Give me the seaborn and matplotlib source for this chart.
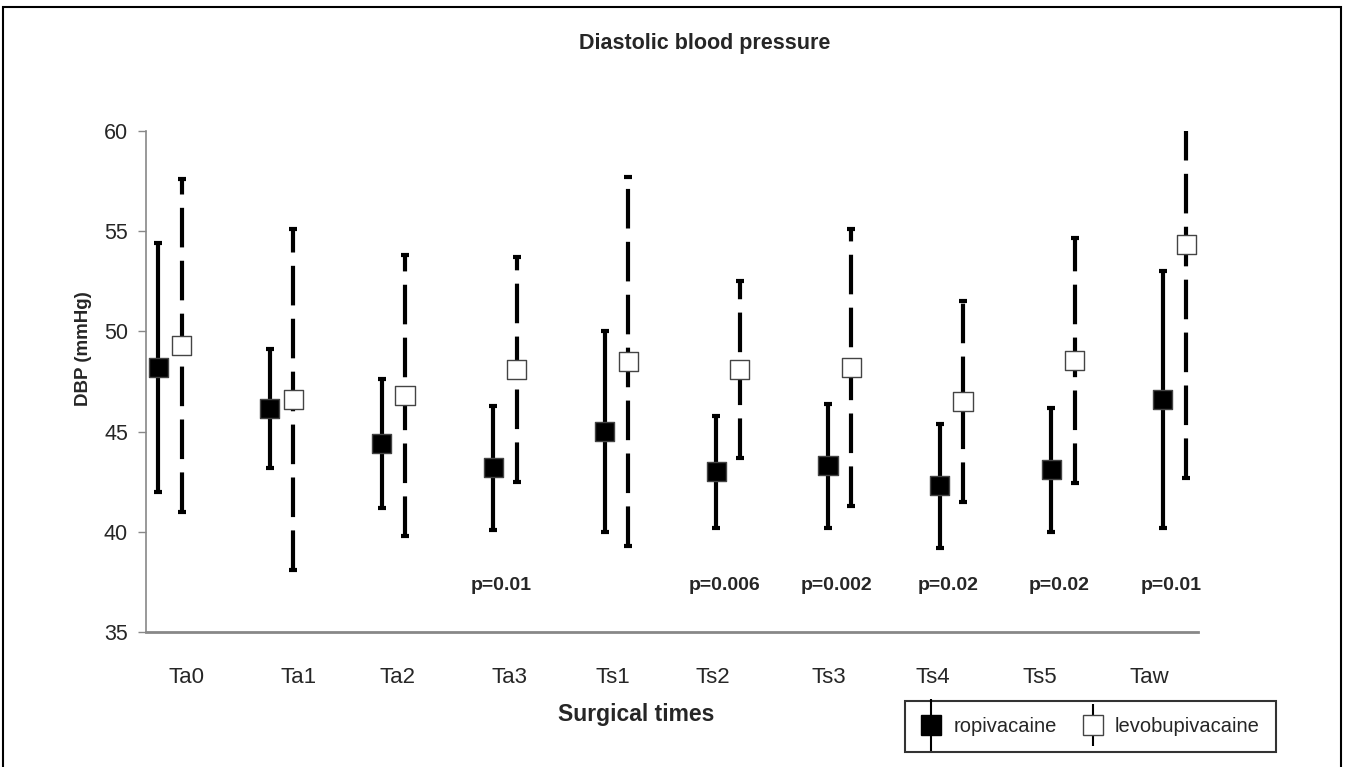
import numpy as np
import pandas as pd
import matplotlib
matplotlib.use("Agg")
import matplotlib.pyplot as plt
import seaborn as sns
from matplotlib.lines import Line2D
from matplotlib.patches import Rectangle
from matplotlib.legend_handler import HandlerTuple

# ---- data ----
times = ["Ta0", "Ta1", "Ta2", "Ta3", "Ts1", "Ts2", "Ts3", "Ts4", "Ts5", "Taw"]
ropi_mean = [48.2, 46.15, 44.4, 43.2, 45.0, 43.0, 43.3, 42.3, 43.1, 46.6]
ropi_sd = [6.2, 2.95, 3.2, 3.1, 5.0, 2.8, 3.1, 3.1, 3.1, 6.4]
levo_mean = [49.3, 46.6, 46.8, 48.1, 48.5, 48.1, 48.2, 46.5, 48.55, 54.35]
levo_sd = [8.3, 8.5, 7.0, 5.6, 9.2, 4.4, 6.9, 5.0, 6.1, 11.65]
p_times = ["Ta3", "Ts2", "Ts3", "Ts4", "Ts5", "Taw"]
p_labels = ["p=0.01", "p=0.006", "p=0.002", "p=0.02", "p=0.02", "p=0.01"]
series_names = ["ropivacaine", "levobupivacaine"]

# tick label offsets (layout only)
tick_offsets = [0.15, 0.15, 0.04, 0.04, -0.03, -0.14, -0.10, -0.17, -0.21, -0.23]

sns.set_theme(style="white")
plt.rcParams["font.family"] = ["Liberation Sans", "DejaVu Sans"]

fig = plt.figure(figsize=(13.47, 7.67), dpi=100)
ax = fig.add_axes([146 / 1347, 1 - 632 / 767, (1198 - 146) / 1347, (632 - 131) / 767])

idx = np.arange(len(times))
dodge = 0.105
df = pd.DataFrame({
    "x": np.concatenate([idx - dodge, idx + dodge]),
    "mean": ropi_mean + levo_mean,
    "sd": ropi_sd + levo_sd,
    "series": [series_names[0]] * len(times) + [series_names[1]] * len(times),
})

lw = 3.0
r = df[df.series == series_names[0]]
l = df[df.series == series_names[1]]
ax.errorbar(r["x"], r["mean"], yerr=r["sd"], fmt="none", ecolor="black",
            elinewidth=lw, capsize=3, capthick=3, zorder=2)
eb = ax.errorbar(l["x"], l["mean"], yerr=l["sd"], fmt="none", ecolor="black",
                 elinewidth=lw, capsize=3, capthick=3, zorder=2)
eb[2][0].set_linestyle((0, (9.5, 3.2)))

sns.scatterplot(data=df, x="x", y="mean", hue="series", style="series",
                markers={series_names[0]: "s", series_names[1]: "s"},
                palette={series_names[0]: "black", series_names[1]: "white"},
                s=190, edgecolor="#444444", linewidth=1.0, ax=ax, legend=False,
                zorder=3, clip_on=False)

for t, lab in zip(p_times, p_labels):
    ax.text(times.index(t) - 0.03, 37.1, lab, ha="center", va="baseline",
            fontsize=14, fontweight="bold")

ax.set_xlim(-0.215, 9.21)
ax.set_ylim(35, 60)
ax.set_yticks([35, 40, 45, 50, 55, 60])
ax.set_xticks(idx + np.array(tick_offsets))
ax.set_xticklabels(times, fontsize=16)
ax.tick_params(axis="y", labelsize=15.5, length=6, width=1, color="#888888",
               left=True, direction="out", pad=7)
ax.tick_params(axis="x", length=0, pad=25)
for s in ["top", "right"]:
    ax.spines[s].set_visible(False)
ax.spines["left"].set_color("#888888")
ax.spines["left"].set_linewidth(1.2)
ax.spines["bottom"].set_color("#888888")
ax.spines["bottom"].set_linewidth(2)
ax.set_xlabel("Surgical times", fontsize=16.5, fontweight="bold", va="top")
ax.xaxis.set_label_coords((636 - 146) / 1052, (632 - 703) / 501)
ax.set_ylabel("DBP (mmHg)", fontsize=13.5, fontweight="bold", va="center")
ax.yaxis.set_label_coords((83 - 146) / 1052, (632 - 349) / 501)

fig.text(705 / 1347, 1 - 44 / 767, "Diastolic blood pressure", ha="center", va="center",
         fontsize=15.5, fontweight="bold")

h1 = (Line2D([], [], marker="|", markersize=37, mew=1.5, color="black", linestyle="none"),
      Line2D([], [], marker="s", markersize=14, markerfacecolor="black",
             markeredgecolor="black", linestyle="none"))
h2 = (Line2D([], [], marker="|", markersize=30, mew=1.5, color="black", linestyle="none"),
      Line2D([], [], marker="s", markersize=14, markerfacecolor="white",
             markeredgecolor="#444444", linestyle="none"))
leg = fig.legend([h1, h2], series_names, handler_map={tuple: HandlerTuple(ndivide=1)},
                 loc="center", bbox_to_anchor=((909 + 1272) / 2 / 1347, 1 - 726.5 / 767),
                 ncol=2, fontsize=14.5, frameon=True, fancybox=False, edgecolor="black",
                 handlelength=1.0, handletextpad=0.6, columnspacing=1.3, borderpad=0.8)
leg.get_frame().set_linewidth(1.5)

fig.patches.append(Rectangle((3 / 1347, -0.01), 1 - 9 / 1347, 1.01 - 7 / 767,
                             transform=fig.transFigure, fill=False,
                             edgecolor="black", linewidth=1.5))

fig.savefig("out.png", dpi=100)
